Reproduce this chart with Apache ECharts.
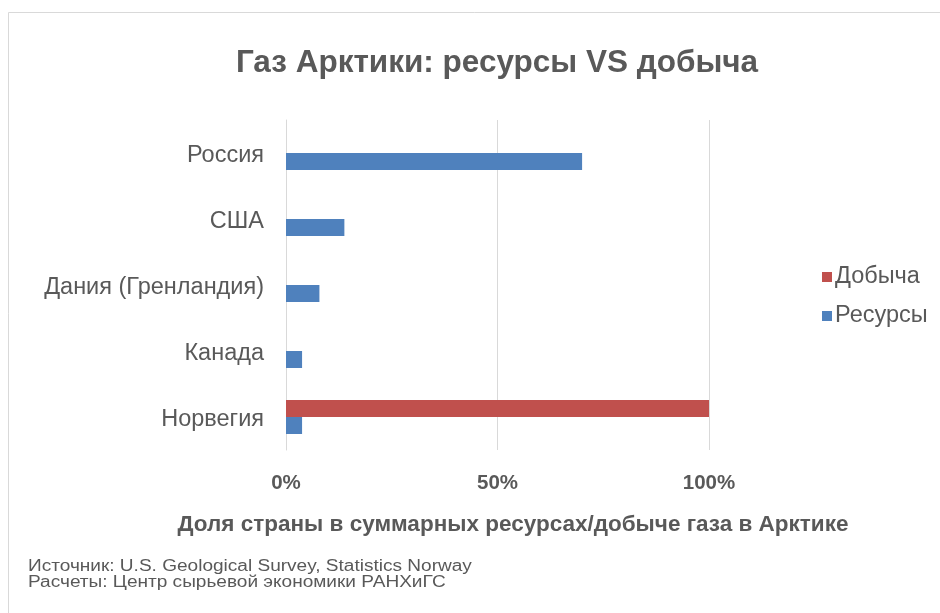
<!DOCTYPE html>
<html>
<head>
<meta charset="utf-8">
<script src="https://cdn.jsdelivr.net/npm/echarts@6/dist/echarts.min.js"></script>
<style>html,body{margin:0;padding:0;background:#fff;}#c{width:940px;height:613px;}</style>
</head>
<body>
<div id="c"></div>
<script>
var categories = ['Россия', 'США', 'Дания (Гренландия)', 'Канада', 'Норвегия'];
var production = [0, 0, 0, 0, 100];
var resources = [70, 13.8, 7.9, 3.8, 3.8];
var xTicks = [0, 50, 100];
var titleText = 'Газ Арктики: ресурсы VS добыча';
var axisTitle = 'Доля страны в суммарных ресурсах/добыче газа в Арктике';
var sourceLines = ['Источник: U.S. Geological Survey, Statistics Norway', 'Расчеты: Центр сырьевой экономики РАНХиГС'];

var gray = '#595959';
var chart = echarts.init(document.getElementById('c'), null, {renderer: 'canvas'});
chart.setOption({
  animation: false,
  backgroundColor: '#fff',
  title: {
    text: titleText,
    left: 492, top: 42,
    textAlign: 'center',
    textStyle: {fontFamily: 'Liberation Sans', fontWeight: 'bold', fontSize: 31.5, color: gray}
  },
  graphic: [
    {type: 'rect', shape: {x: 8.5, y: 12.5, width: 960, height: 700}, style: {fill: 'none', stroke: '#d9d9d9', lineWidth: 1}, silent: true, z: -1},
    {type: 'text', x: 28, y: 558, scaleX: 1.19, style: {text: sourceLines.join('\n'), fontFamily: 'Liberation Sans', fontSize: 16, lineHeight: 16.5, fill: gray}}
  ],
  legend: {
    orient: 'vertical',
    left: 817, top: 260,
    itemWidth: 10, itemHeight: 10, itemGap: 15,
    icon: 'rect',
    data: ['Добыча', 'Ресурсы'],
    textStyle: {fontFamily: 'Liberation Sans', fontSize: 23.5, color: gray, padding: [0, 0, 3, -2]}
  },
  grid: {left: 286, right: 231, top: 120, bottom: 163, containLabel: false},
  xAxis: {
    type: 'value', min: 0, max: 100, interval: 50,
    axisLine: {show: false}, axisTick: {show: false},
    splitLine: {show: true, lineStyle: {color: '#d9d9d9', width: 1}},
    axisLabel: {formatter: '{value}%', margin: 23, fontFamily: 'Liberation Sans', fontWeight: 'bold', fontSize: 20.5, color: gray},
    name: axisTitle, nameLocation: 'middle', nameGap: 63,
    nameTextStyle: {fontFamily: 'Liberation Sans', fontWeight: 'bold', fontSize: 22.5, color: gray, padding: [0, 0, 0, 31]}
  },
  yAxis: {
    type: 'category', data: categories, inverse: true,
    axisLine: {show: true, lineStyle: {color: '#d9d9d9'}}, axisTick: {show: false},
    axisLabel: {margin: 22, fontFamily: 'Liberation Sans', fontSize: 23.5, color: gray, verticalAlign: 'top', lineHeight: 5}
  },
  series: [
    {name: 'Добыча', type: 'bar', data: production, barWidth: 17, barGap: '0%', itemStyle: {color: '#c0504d'}},
    {name: 'Ресурсы', type: 'bar', data: resources, barWidth: 17, barGap: '0%', itemStyle: {color: '#4f81bd'}}
  ]
});
</script>
</body>
</html>
